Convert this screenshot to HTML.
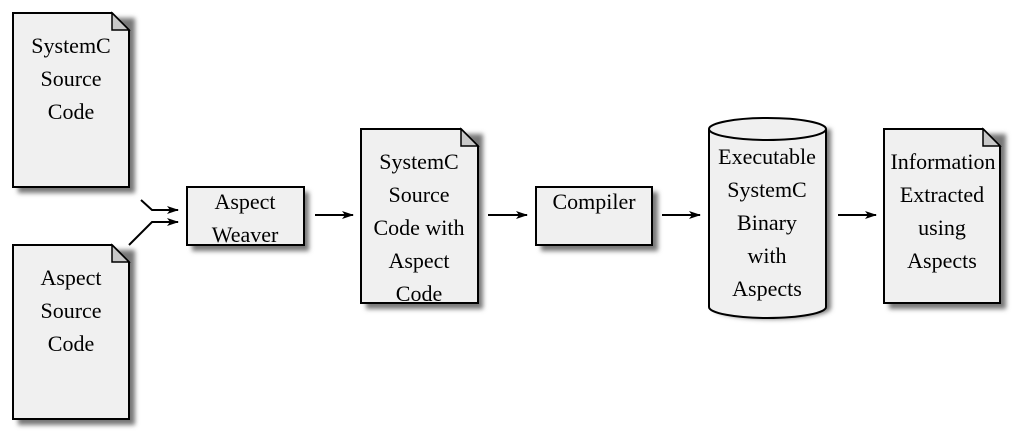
<!DOCTYPE html>
<html><head><style>body{margin:0;background:#fff}svg{display:block}svg text{font-family:"Liberation Serif","DejaVu Serif",serif;font-size:22px}</style></head><body>
<svg width="1024" height="446" viewBox="0 0 1024 446" xmlns="http://www.w3.org/2000/svg" text-anchor="middle">
<defs>
<filter id="sh" x="-20%" y="-20%" width="150%" height="150%"><feGaussianBlur stdDeviation="2.5"/></filter>
<marker id="ar" markerWidth="12" markerHeight="8" refX="11" refY="4" orient="auto" markerUnits="userSpaceOnUse"><path d="M0,0 L12,4 L0,8 L3,4 Z" fill="#000"/></marker>
</defs>
<g fill="#777" filter="url(#sh)">
<rect x="18" y="18" width="117" height="175"/>
<rect x="18" y="250" width="117" height="175"/>
<rect x="192" y="192" width="117" height="59"/>
<rect x="366" y="134" width="117" height="175"/>
<rect x="541" y="192" width="117" height="59"/>
<path d="M714,129 V308 A58,11 0 0 0 831,308 V129 Z"/>
<rect x="889" y="134" width="117" height="175"/>
</g>
<g fill="#f0f0f0" stroke="#000" stroke-width="2">
<path d="M13,13 H112 L129,30 V187 H13 Z"/>
<path d="M13,245 H112 L129,262 V419 H13 Z"/>
<rect x="187" y="187" width="117" height="58"/>
<path d="M361,129 H461 L478,146 V303 H361 Z"/>
<rect x="536" y="187" width="116" height="58"/>
<path d="M709,129 V307 A58.5,11 0 0 0 826,307 V129"/>
<ellipse cx="767.5" cy="129" rx="58.5" ry="11"/>
<path d="M884,129 H983 L1000,146 V303 H884 Z"/>
</g>
<g fill="#c8c8c8" stroke="#000" stroke-width="1.5">
<path d="M112,13 V30 H129 Z"/>
<path d="M112,245 V262 H129 Z"/>
<path d="M461,129 V146 H478 Z"/>
<path d="M983,129 V146 H1000 Z"/>
</g>
<g stroke="#000" stroke-width="2" fill="none" marker-end="url(#ar)">
<path d="M141,200 L152,210 H178"/>
<path d="M129,245 L152,222 H178"/>
<path d="M315,215 H353"/>
<path d="M488,215 H527"/>
<path d="M662,215 H700"/>
<path d="M838,215 H876"/>
</g>
<g fill="#000">
<text x="71" y="53">SystemC</text><text x="71" y="86">Source</text><text x="71" y="119">Code</text>
<text x="71" y="285">Aspect</text><text x="71" y="318">Source</text><text x="71" y="351">Code</text>
<text x="245" y="209">Aspect</text><text x="245" y="242">Weaver</text>
<text x="419" y="169">SystemC</text><text x="419" y="202">Source</text><text x="419" y="235">Code with</text><text x="419" y="268">Aspect</text><text x="419" y="301">Code</text>
<text x="594" y="209">Compiler</text>
<text x="767" y="164">Executable</text><text x="767" y="197">SystemC</text><text x="767" y="230">Binary</text><text x="767" y="263">with</text><text x="767" y="296">Aspects</text>
<text x="943" y="169">Information</text><text x="942" y="202">Extracted</text><text x="942" y="235">using</text><text x="942" y="268">Aspects</text>
</g>
</svg>
</body></html>
